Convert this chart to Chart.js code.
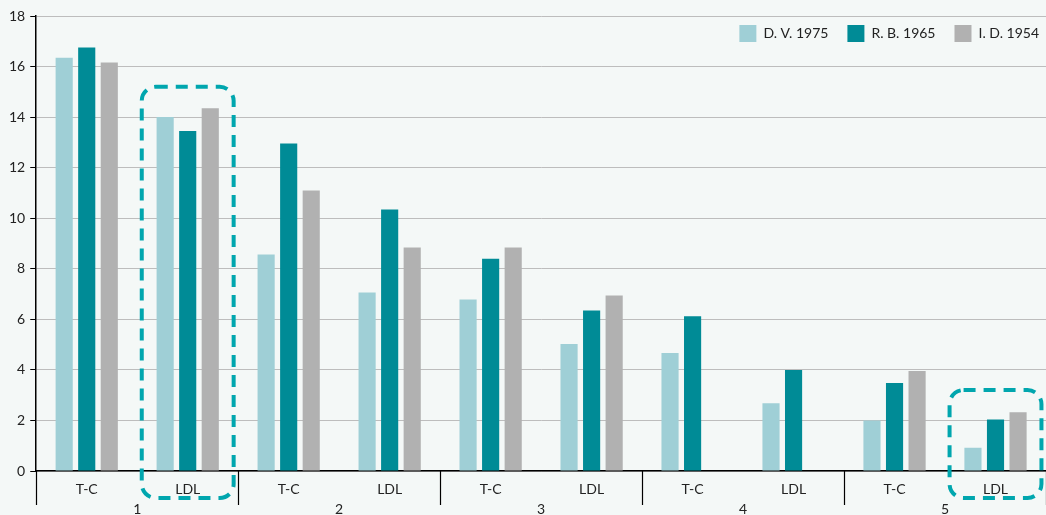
<!DOCTYPE html>
<html>
<head>
<meta charset="utf-8">
<script src="https://cdn.jsdelivr.net/npm/chart.js@4/dist/chart.umd.min.js"></script>
<style>
  html, body { margin: 0; padding: 0; background: #f4f8f7; overflow: hidden; }
  #wrap { width: 1046px; height: 515px; position: relative; }
</style>
</head>
<body>
<div id="wrap"><canvas id="myChart"></canvas></div>
<script>
const subLabels = ['T-C', 'LDL', 'T-C', 'LDL', 'T-C', 'LDL', 'T-C', 'LDL', 'T-C', 'LDL'];
const groupLabels = ['1', '2', '3', '4', '5'];
const dv1975 = [16.35, 14.0, 8.56, 7.06, 6.78, 5.02, 4.67, 2.68, 2.0, 0.92];
const rb1965 = [16.75, 13.45, 12.96, 10.35, 8.4, 6.35, 6.12, 4.0, 3.48, 2.04];
const id1954 = [16.16, 14.35, 11.1, 8.84, 8.84, 6.94, null, null, 3.96, 2.32];
// categories framed by the dashed boxes, and the value the frame reaches up to
const highlightIdx = [1, 9];
const highlightTop = [15.2, 3.2];

const font = { family: 'Lato', size: 14 };

// let the legend sit inside the plot, top right
const legendInPlot = {
    id: 'legendInPlot',
    afterLayout(chart) {
        const lg = chart.legend;
        lg.top = chart.chartArea.top - 10;
        lg.bottom = lg.top + 50;
        lg.height = 50;
        lg.right = chart.width + 12;
        lg.width = lg.right - lg.left;
    }
};

// dashed rounded frames round the highlighted categories
const dashedBoxes = {
    id: 'dashedBoxes',
    afterDatasetsDraw(chart) {
        const x = chart.scales.x, y = chart.scales.y;
        const c = chart.ctx;
        const half = x.width / subLabels.length * 0.455;
        c.save();
        c.strokeStyle = '#00a6ae';
        c.lineWidth = 4;
        c.setLineDash([12, 8]);
        highlightIdx.forEach((idx, i) => {
            const cx = x.getPixelForValue(idx);
            const top = y.getPixelForValue(highlightTop[i]);
            const bottom = y.getPixelForValue(0) + 27;
            c.beginPath();
            c.roundRect(cx - half, top, half * 2, bottom - top, 14);
            c.stroke();
        });
        c.restore();
    }
};

// vertical separators between the groups, below the axis
const groupDividers = {
    id: 'groupDividers',
    afterDraw(chart) {
        const x = chart.scales.x;
        const c = chart.ctx;
        const step = x.width / subLabels.length;
        c.save();
        c.strokeStyle = '#000';
        c.lineWidth = 1.2;
        for (let i = 0; i <= subLabels.length; i += 2) {
            const px = Math.round(x.getPixelForValue(0) - step / 2 + i * step) + 0.5;
            c.beginPath();
            c.moveTo(px, x.top);
            c.lineTo(px, x.top + 34);
            c.stroke();
        }
        c.restore();
    }
};

const ctx = document.getElementById('myChart');
const chart = new Chart(ctx, {
    type: 'bar',
    data: {
        labels: subLabels,
        datasets: [
            { label: 'D. V. 1975', data: dv1975, backgroundColor: '#9fcfd6' },
            { label: 'R. B. 1965', data: rb1965, backgroundColor: '#008b96' },
            { label: 'I. D. 1954', data: id1954, backgroundColor: '#b1b1b1' }
        ]
    },
    options: {
        responsive: true,
        maintainAspectRatio: false,
        animation: false,
        categoryPercentage: 0.67,
        barPercentage: 0.76,
        layout: { padding: { top: 15, right: -2, left: 4, bottom: 0 } },
        plugins: {
            legend: {
                position: 'top',
                align: 'end',
                maxHeight: 1,
                labels: {
                    boxWidth: 17,
                    boxHeight: 17,
                    padding: 19,
                    color: '#222',
                    font: font
                }
            },
            tooltip: { enabled: false }
        },
        scales: {
            x: {
                grid: { display: false, drawTicks: false },
                border: { color: '#000', width: 1.5 },
                ticks: { color: '#222', padding: 10, font: font },
                afterFit: (s) => { s.height = 26; }
            },
            x2: {
                type: 'category',
                labels: groupLabels,
                position: 'bottom',
                offset: true,
                grid: { display: false, drawTicks: false },
                border: { display: false },
                ticks: { color: '#222', padding: 4, font: font },
                afterFit: (s) => { s.height = 18; }
            },
            y: {
                min: 0,
                max: 18,
                ticks: { stepSize: 2, color: '#222', padding: 5, font: font },
                grid: { color: '#bdbdbd', tickColor: '#000', tickLength: 6 },
                border: { color: '#000', width: 1.5 }
            }
        }
    },
    plugins: [legendInPlot, dashedBoxes, groupDividers]
});
</script>
</body>
</html>
